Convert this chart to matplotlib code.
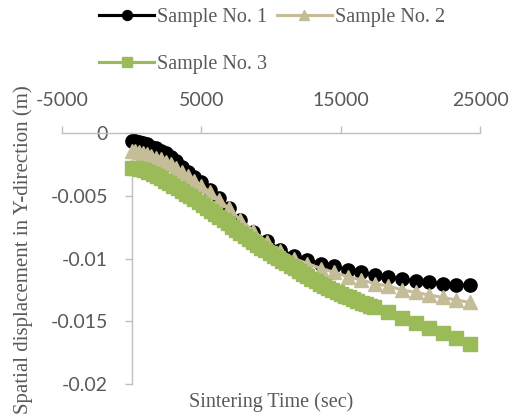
import matplotlib
matplotlib.use('Agg')
import matplotlib.pyplot as plt

plt.rcParams['axes.unicode_minus'] = False

# sintering time (sec) for samples 1 and 2
time_12 = [0, 250, 500, 800, 1100, 1400, 1750, 2100, 2450, 2800,
           3200, 3600, 4050, 4500, 5000, 5600, 6250, 6950, 7760, 8730,
           9700, 10670, 11640, 12610, 13580, 14550, 15520, 16490, 17460, 18430,
           19400, 20370, 21340, 22310, 23280, 24250]

# spatial displacement in Y-direction (m)
sample1 = [-0.0006, -0.0006, -0.0007, -0.0008, -0.0009, -0.0011, -0.0012, -0.0014, -0.0016, -0.0019,
           -0.0022, -0.0027, -0.0031, -0.0035, -0.0039, -0.0045, -0.0052, -0.0060, -0.0069, -0.0079,
           -0.0086, -0.0093, -0.0098, -0.0101, -0.0104, -0.0106, -0.0109, -0.0111, -0.0113, -0.0115,
           -0.0116, -0.0118, -0.0119, -0.0120, -0.0121, -0.0121]
sample2 = [-0.0014, -0.0014, -0.0015, -0.0016, -0.0017, -0.0018, -0.0020, -0.0021, -0.0023, -0.0025,
           -0.0028, -0.0031, -0.0034, -0.0038, -0.0042, -0.0047, -0.0053, -0.0060, -0.0069, -0.0078,
           -0.0087, -0.0094, -0.0100, -0.0104, -0.0108, -0.0111, -0.01145, -0.0117, -0.0120, -0.0122,
           -0.0125, -0.0127, -0.0129, -0.0131, -0.0133, -0.0135]

# sample 3 is sampled much finer up to ~17000 sec
time_3 = [0, 300, 600, 900, 1200, 1500, 1800, 2100, 2400, 2700,
          3000, 3300, 3600, 3900, 4200, 4500, 4800, 5100, 5400, 5700,
          6000, 6300, 6600, 6900, 7200, 7500, 7800, 8100, 8400, 8700,
          9000, 9300, 9600, 9900, 10200, 10500, 10800, 11100, 11400, 11700,
          12000, 12300, 12600, 12900, 13200, 13500, 13800, 14100, 14400, 14700,
          15000, 15300, 15600, 15900, 16200, 16500, 16800, 17100, 17400, 18430,
          19400, 20370, 21340, 22310, 23280, 24250]
sample3 = [-0.00280, -0.00280, -0.00287, -0.00298, -0.00310, -0.00327, -0.00340, -0.00357, -0.00380, -0.00397,
           -0.00420, -0.00440, -0.00460, -0.00483, -0.00504, -0.00525, -0.00548, -0.00570, -0.00595, -0.00620,
           -0.00645, -0.00670, -0.00695, -0.00720, -0.00745, -0.00770, -0.00794, -0.00818, -0.00842, -0.00866,
           -0.00890, -0.00913, -0.00936, -0.00958, -0.00978, -0.00998, -0.01018, -0.01038, -0.01058, -0.01078,
           -0.01100, -0.01122, -0.01143, -0.01163, -0.01182, -0.01200, -0.01218, -0.01235, -0.01250, -0.01265,
           -0.01280, -0.01295, -0.01310, -0.01325, -0.01339, -0.01352, -0.01364, -0.01376, -0.01388, -0.01430,
           -0.01470, -0.01510, -0.01550, -0.01590, -0.01635, -0.01685]

xticks = [-5000, 5000, 15000, 25000]
xtick_labels = ['-5000', '5000', '15000', '25000']
yticks = [0, -0.005, -0.01, -0.015, -0.02]
ytick_labels = ['0', '-0.005', '-0.01', '-0.015', '-0.02']

serif = 'Liberation Serif'
sans = 'Lato'
grey_txt = '#595959'
grey_ax = '#BFBFBF'

fig = plt.figure(figsize=(5.18, 4.19), dpi=100)
ax = fig.add_axes([0.1197, 0.0835, 0.807, 0.599])

l1, = ax.plot(time_12, sample1, color='black', marker='o', markersize=9.5, lw=2.25,
              label='Sample No. 1', zorder=3)
l2, = ax.plot(time_12, sample2, color='#C4BD97', marker='^', markersize=10.5, lw=2.25,
              label='Sample No. 2', zorder=3)
l3, = ax.plot(time_3, sample3, color='#9BBB59', marker='s', markersize=10, lw=2.25,
              label='Sample No. 3', zorder=3)

ax.set_xlim(-5000, 25000)
ax.set_ylim(-0.02, 0)

ax.spines['right'].set_visible(False)
ax.spines['bottom'].set_visible(False)
ax.spines['left'].set_position(('data', 0))
for s in ['top', 'left']:
    ax.spines[s].set_color(grey_ax)
    ax.spines[s].set_linewidth(1.0)

ax.xaxis.tick_top()
ax.set_xticks(xticks)
ax.set_xticklabels(xtick_labels)
ax.set_yticks(yticks)
ax.set_yticklabels(ytick_labels)
ax.tick_params(axis='both', direction='out', length=5, width=1.0, color=grey_ax,
               labelcolor=grey_txt, labelsize=14)
ax.tick_params(axis='x', pad=12)
ax.tick_params(axis='y', pad=12)
for lab in ax.get_xticklabels() + ax.get_yticklabels():
    lab.set_fontfamily(sans)

fig.text(271/518, 1-402/419, 'Sintering Time (sec)', family=serif, fontsize=14.5,
         color=grey_txt, ha='center', va='center')
fig.text(23/518, 1-250/419, 'Spatial displacement in Y-direction (m)', family=serif,
         fontsize=15, color=grey_txt, ha='center', va='center', rotation=90)

# legend fills column-wise, so order handles to get 1,2 on top row and 3 below
leg = fig.legend([l1, l3, l2], ['Sample No. 1', 'Sample No. 3', 'Sample No. 2'],
                 loc='center', bbox_to_anchor=(272/518, 1-41/419), ncol=2, frameon=False,
                 prop={'family': serif, 'size': 14.5}, handlelength=2.75, handletextpad=0.15,
                 columnspacing=0.45, labelspacing=1.35, markerscale=0.75)
for t in leg.get_texts():
    t.set_color(grey_txt)

plt.savefig('out.png', dpi=100)
